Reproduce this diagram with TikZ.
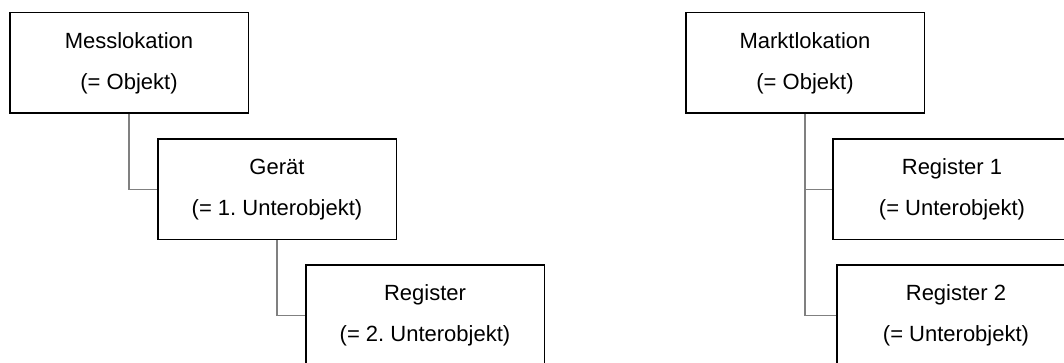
\documentclass[tikz,border=0pt]{standalone}
\usepackage{fontspec}
\setmainfont{Liberation Sans}
\frenchspacing
\tikzset{
	obj/.style={draw=black, line width=1.5pt, fill=white, minimum width=238.5pt, minimum height=100.5pt, inner sep=0pt, align=center, font=\fontsize{22}{41}\selectfont, execute at begin node={\rule{0pt}{22pt}}},
	link/.style={draw=gray, line width=1.3pt}
}
\begin{document}
\begin{tikzpicture}[x=1pt, y=1pt]
		\clip (0,0) rectangle (1064,363);
		\node [obj] (mess) at (129, 300) {Messlokation\\(= Objekt)};
		\node [obj] (geraet) at (277, 173.5) {Gerät\\(= 1. Unterobjekt)};
		\node [obj] (reg) at (425, 47.5) {Register\\(= 2. Unterobjekt)};
		\node [obj] (markt) at (805, 300) {Marktlokation\\(= Objekt)};
		\node [obj] (regA) at (952, 173.5) {Register 1\\(= Unterobjekt)};
		\node [obj] (regB) at (956, 47.5) {Register 2\\(= Unterobjekt)};
		\draw [link] (mess.south) |- (geraet.west);
		\draw [link] (geraet.south) |- (reg.west);
		\draw [link] (markt.south) |- (regA.west);
		\draw [link] (markt.south) |- (regB.west);
		\end{tikzpicture}
\end{document}
